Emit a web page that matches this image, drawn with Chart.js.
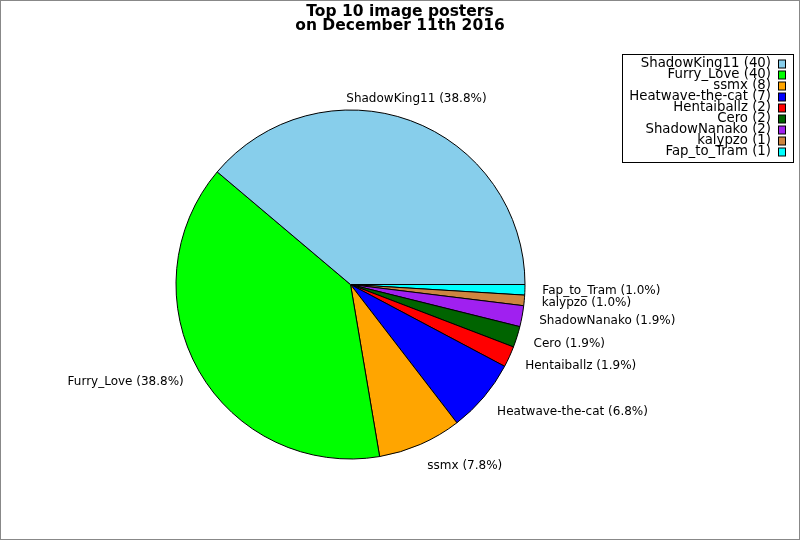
<!DOCTYPE html>
<html lang="en">
<head>
<meta charset="UTF-8">
<title>Top 10 image posters</title>
<script src="https://cdn.jsdelivr.net/npm/chart.js@4"></script>
<style>
  html, body { margin: 0; padding: 0; background: #fff; }
  #wrap { width: 800px; height: 540px; }
</style>
</head>
<body>
<div id="wrap"><canvas id="pie" width="800" height="540"></canvas></div>
<script>
  // values
  const posters = ['ShadowKing11', 'Furry_Love', 'ssmx', 'Heatwave-the-cat', 'Hentaiballz', 'Cero', 'ShadowNanako', 'kalypzo', 'Fap_to_Tram'];
  const imageCounts = [40, 40, 8, 7, 2, 2, 2, 1, 1];
  const sliceColors = ['#87ceeb', '#00ff00', '#ffa500', '#0000ff', '#ff0000', '#006400', '#a020f0', '#cd853f', '#00ffff'];
  const titleLines = ['Top 10 image posters', 'on December 11th 2016'];

  const total = imageCounts.reduce((a, b) => a + b, 0);
  // the original goes counter-clockwise from 3 o'clock, Chart.js goes clockwise -> feed it reversed
  const order = posters.map((_, i) => posters.length - 1 - i);

  const FONT = '"DejaVu Sans", "Liberation Sans", sans-serif';

  // white background, figure border, title and legend box
  const framePlugin = {
    id: 'frame',
    beforeDraw(chart) {
      const ctx = chart.ctx;
      ctx.save();
      ctx.fillStyle = '#fff';
      ctx.fillRect(0, 0, chart.width, chart.height);
      ctx.restore();
    },
    afterDraw(chart) {
      const ctx = chart.ctx;
      ctx.save();
      ctx.strokeStyle = '#888';
      ctx.lineWidth = 1;
      ctx.strokeRect(0.5, 0.5, chart.width - 1, chart.height - 1);

      // title
      ctx.fillStyle = '#000';
      ctx.font = 'bold 15.5px ' + FONT;
      ctx.textAlign = 'center';
      ctx.textBaseline = 'alphabetic';
      ctx.fillText(titleLines[0], 400, 15.5);
      ctx.fillText(titleLines[1], 400, 29.5);

      // legend
      ctx.fillStyle = '#fff';
      ctx.fillRect(622.5, 54.5, 171, 108);
      ctx.strokeStyle = '#000';
      ctx.strokeRect(622.5, 54.5, 171, 108);
      ctx.font = '13.3px ' + FONT;
      ctx.textAlign = 'right';
      ctx.textBaseline = 'middle';
      posters.forEach((name, i) => {
        const y = 63.5 + i * 11;
        ctx.fillStyle = '#000';
        ctx.fillText(`${name} (${imageCounts[i]})`, 771, y);
        ctx.fillStyle = sliceColors[i];
        ctx.fillRect(778.5, y - 3.5, 7, 8);
        ctx.strokeRect(778.5, y - 3.5, 7, 8);
      });
      ctx.restore();
    }
  };

  // outside labels "name (pct%)"
  const labelPlugin = {
    id: 'sliceLabels',
    afterDatasetsDraw(chart) {
      const ctx = chart.ctx;
      const arcs = chart.getDatasetMeta(0).data;
      ctx.save();
      ctx.font = '12px ' + FONT;
      ctx.fillStyle = '#000';
      ctx.textBaseline = 'middle';
      arcs.forEach((arc, j) => {
        const i = order[j];
        const mid = (arc.startAngle + arc.endAngle) / 2;
        const c = Math.cos(mid), s = Math.sin(mid);
        const r = arc.outerRadius * 1.1;
        const x = arc.x + r * c;
        const y = arc.y + r * s + 5.5 * s;
        ctx.textAlign = Math.abs(c) < 0.38 ? 'center' : (c > 0 ? 'left' : 'right');
        const pct = (imageCounts[i] / total * 100).toFixed(1);
        ctx.fillText(`${posters[i]} (${pct}%)`, x, y);
      });
      ctx.restore();
    }
  };

  new Chart(document.getElementById('pie'), {
    type: 'pie',
    data: {
      labels: order.map(i => posters[i]),
      datasets: [{
        data: order.map(i => imageCounts[i]),
        backgroundColor: order.map(i => sliceColors[i]),
        borderColor: '#000',
        borderWidth: 1
      }]
    },
    options: {
      responsive: false,
      devicePixelRatio: 1,
      animation: false,
      rotation: 90,
      radius: 174.5,
      layout: { padding: { left: 0, right: 99, top: 29, bottom: 0 } },
      plugins: {
        legend: { display: false },
        title: { display: false },
        tooltip: { enabled: false }
      }
    },
    plugins: [framePlugin, labelPlugin]
  });
</script>
</body>
</html>
